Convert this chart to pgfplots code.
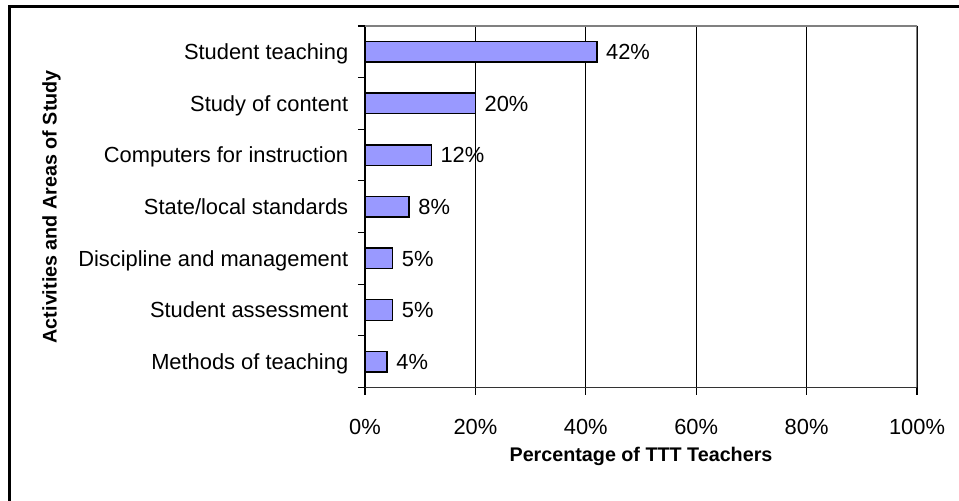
\documentclass[border=0pt]{standalone}
\usepackage{pgfplots}
\pgfplotsset{compat=1.18}
\usepackage{fontspec}
\setmainfont{Liberation Sans}
\definecolor{barfill}{HTML}{9999FF}
\definecolor{framegray}{HTML}{808080}
\definecolor{axisdark}{HTML}{333333}

\begin{document}
\begin{tikzpicture}
\useasboundingbox (0,0) rectangle (719.25pt,375pt);
\draw[line width=2pt] (7.1pt,-5pt) -- (7.1pt,370.35pt) -- (730pt,370.35pt);
\begin{axis}[
  at={(273.75pt,84.4pt)}, anchor=south west,
  scale only axis, width=414pt, height=271.1pt,
  xbar, bar width=15.45pt,
  xmin=0, xmax=100, ymin=-0.5, ymax=6.5,
  xtick={0,20,40,60,80,100},
  xticklabels={0\%,20\%,40\%,60\%,80\%,100\%},
  ytick={-0.5,0.5,1.5,2.5,3.5,4.5,5.5,6.5}, yticklabels={},
  extra y ticks={0,1,2,3,4,5,6},
  extra y tick labels={Methods of teaching,Student assessment,Discipline and management,State/local standards,Computers for instruction,Study of content,Student teaching},
  extra y tick style={major tick length=0pt, tick style={draw=none},
    yticklabel style={anchor=base east, yshift=-5.87pt, inner sep=0pt, xshift=-12.4pt}},
  tick align=outside, major tick length=5.4pt,
  tick style={black, line width=0.8pt},
  axis x line*=bottom, axis y line*=left,
  x axis line style={axisdark, line width=1.4pt},
  y axis line style={black, line width=1.2pt},
  xmajorgrids, grid style={black, line width=0.6pt},
  tick label style={font=\fontsize{16.4pt}{19pt}\selectfont},
  xticklabel style={anchor=base, inner sep=0pt, yshift=-30.15pt},
  label style={font=\bfseries\fontsize{14.8pt}{17pt}\selectfont},
  xlabel={Percentage of TTT Teachers},
  xlabel style={at={(axis description cs:0.5,-0.2052)}, anchor=base},
  ylabel={Activities and Areas of Study},
  ylabel style={at={(axis description cs:-0.568,0.5)}, anchor=center},
  nodes near coords={\pgfmathprintnumber[assume math mode=true]{\pgfplotspointmeta}\%},
  nodes near coords style={anchor=base west, inner sep=0pt, xshift=6.4pt, yshift=-5.87pt,
    font=\fontsize{16.4pt}{19pt}\selectfont, black},
]
\addplot[fill=barfill, draw=black, line width=1.1pt] coordinates {
  (4,0) (5,1) (5,2) (8,3) (12,4) (20,5) (42,6)
};
\draw[framegray, line width=1.7pt] (rel axis cs:0,1) -- (rel axis cs:1,1) -- (rel axis cs:1,0);
\end{axis}
\end{tikzpicture}
\end{document}
